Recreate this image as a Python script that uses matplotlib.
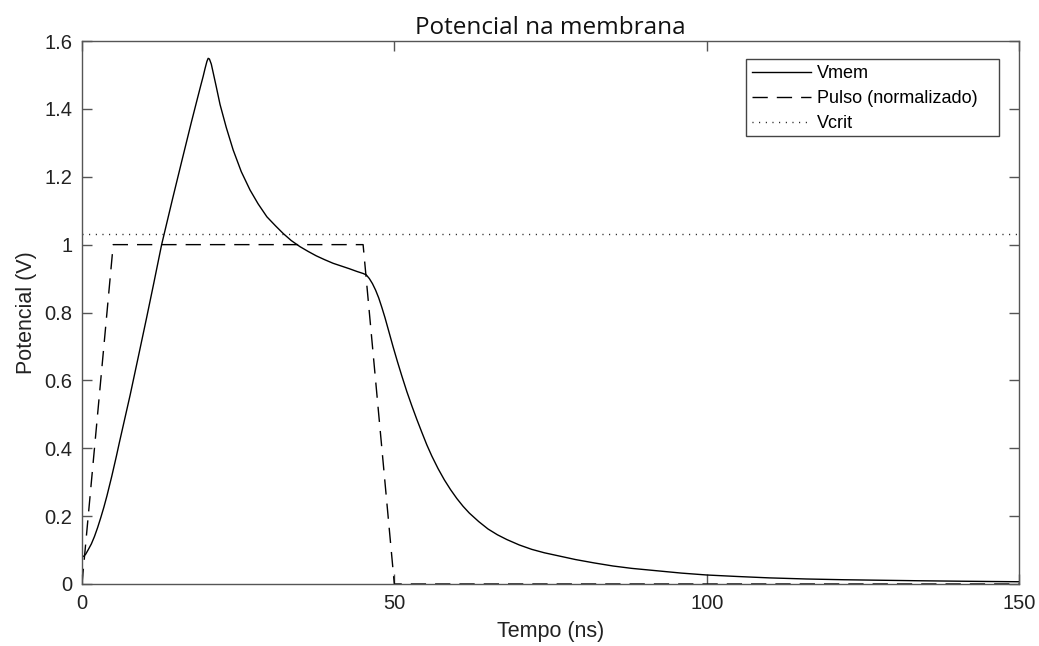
import matplotlib
matplotlib.use('Agg')
import matplotlib.pyplot as plt
from matplotlib.patches import Rectangle

# Vmem (t in ns, V in volts)
t_vmem = [0, 0.3, 0.6, 1.0, 1.5, 2.0, 2.5, 3.0, 3.5, 4.0, 4.75, 5.5, 6.0,
          7.7, 9.0, 10.35, 11.5, 12.75, 14.5, 16.0, 17.5, 18.4, 19.0, 19.4,
          19.7, 20.0, 20.2, 20.4, 20.7, 21.0, 21.5, 22.1, 23.1, 24.2, 25.5,
          26.9, 28.2, 29.6, 31.0, 32.2, 33.5, 34.9, 36.2, 37.5, 38.8, 40.2,
          41.5, 42.8, 44.0, 45.0, 45.5, 46.0, 46.5, 47.0, 47.5, 48.0, 48.5,
          49.0, 49.8, 50.5, 51.2, 52.0, 52.8, 53.6, 54.4, 55.2, 56.0, 57.0,
          58.0, 59.0, 60.0, 61.0, 62.0, 63.5, 65.0, 66.5, 68.0, 70.0, 72.0,
          74.0, 76.5, 79.0, 82.0, 85.0, 88.0, 92.0, 96.0, 100, 105, 110, 116,
          122, 128, 134, 140, 145, 150]
v_vmem = [0.08, 0.082, 0.088, 0.101, 0.118, 0.14, 0.166, 0.195, 0.226, 0.26,
          0.316, 0.376, 0.418, 0.556, 0.668, 0.785, 0.887, 1.0, 1.135, 1.248,
          1.36, 1.425, 1.468, 1.496, 1.519, 1.54, 1.549, 1.547, 1.532, 1.507,
          1.465, 1.413, 1.345, 1.279, 1.215, 1.161, 1.12, 1.082, 1.055, 1.033,
          1.012, 0.994, 0.98, 0.967, 0.956, 0.945, 0.937, 0.929, 0.921, 0.915,
          0.911, 0.9, 0.885, 0.866, 0.843, 0.815, 0.785, 0.752, 0.699, 0.655,
          0.613, 0.567, 0.525, 0.485, 0.447, 0.41, 0.377, 0.34, 0.307, 0.278,
          0.252, 0.229, 0.209, 0.184, 0.162, 0.145, 0.131, 0.115, 0.102,
          0.092, 0.082, 0.072, 0.062, 0.053, 0.046, 0.039, 0.032, 0.0265,
          0.022, 0.018, 0.0147, 0.0125, 0.011, 0.0095, 0.0083, 0.0074, 0.0066]

# pulse (normalized)
t_pulso = [0, 5, 45, 50, 150]
v_pulso = [0, 1, 1, 0, 0]

# critical voltage
t_crit = [0, 150]
v_crit = [1.03, 1.03]

plt.rcParams['font.family'] = ['Liberation Sans', 'DejaVu Sans']

fig = plt.figure(figsize=(10.39, 6.46), dpi=100)
ax = fig.add_axes([0.0789, 0.0960, 0.9019, 0.8405])

ax.plot(t_vmem, v_vmem, color='black', lw=1.0, label='Vmem')
ax.plot(t_pulso, v_pulso, color='black', lw=1.0, dashes=(11, 6.5),
        label='Pulso (normalizado)')
ax.plot(t_crit, v_crit, color='black', lw=1.0, dashes=(0.7, 4.1),
        label='Vcrit')

ax.set_xlim(0, 150)
ax.set_ylim(0, 1.6)
ax.set_xticks([0, 50, 100, 150])
ax.set_yticks([0, 0.2, 0.4, 0.6, 0.8, 1.0, 1.2, 1.4, 1.6])
ax.set_yticklabels(['0', '0.2', '0.4', '0.6', '0.8', '1', '1.2', '1.4', '1.6'])

for s in ax.spines.values():
    s.set_color('#555555')
    s.set_linewidth(1.0)
ax.tick_params(direction='in', length=7, width=1, color='#555555',
               labelsize=14.5, top=True, right=True, pad=7, labelcolor='#222222')

ax.set_xlabel('Tempo (ns)', fontsize=15.5, color='#222222', labelpad=6)
ax.set_ylabel('Potencial (V)', fontsize=15.5, color='#222222', labelpad=5)
ax.set_title('Potencial na membrana', fontsize=17.5, family='Open Sans',
             color='#111111', pad=5)

# legend box is wider on the right than matplotlib would make it,
# so draw the frame separately
leg = ax.legend(loc='upper left', bbox_to_anchor=(0.7086, 0.9669),
                borderaxespad=0, fontsize=13, handlelength=3.25,
                handletextpad=0.33, labelspacing=0.43, borderpad=0.35,
                frameon=False)
ax.add_patch(Rectangle((0.7086, 0.8250), 0.2701, 0.1419, transform=ax.transAxes,
                       facecolor='white', edgecolor='#444444', lw=1.0, zorder=4))

plt.savefig('out.png', dpi=100)
